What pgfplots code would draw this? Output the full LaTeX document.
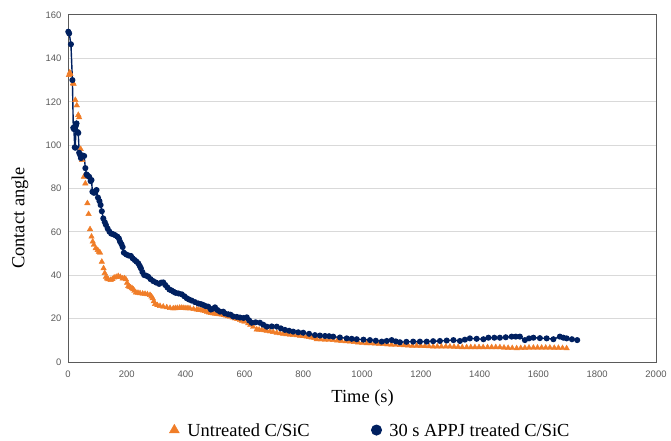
\documentclass[border=0pt]{standalone}
\usepackage{fontspec}
\setmainfont{Liberation Serif}
\newfontfamily\arialf{Liberation Sans}
\usepackage{pgfplots}
\pgfplotsset{compat=1.18}
\definecolor{navy}{RGB}{0,32,96}
\definecolor{orng}{RGB}{240,125,40}
\definecolor{tickgray}{RGB}{89,89,89}
\definecolor{gridgray}{RGB}{217,217,217}
\definecolor{framegray}{RGB}{90,90,90}
\begin{document}
\begin{tikzpicture}
\begin{axis}[
  scale only axis, width=588bp, height=347bp,
  xmin=0, xmax=2000, ymin=0, ymax=160,
  xtick={0,200,...,2000}, ytick={0,20,...,160},
  major tick length=0pt,
  ymajorgrids, grid style={gridgray, line width=1bp},
  axis line style={framegray, line width=1bp},
  tick label style={font=\arialf\fontsize{9.5}{10}\selectfont, text=tickgray},
  /pgf/number format/assume math mode=true,
  /pgf/number format/1000 sep={},
  yticklabel style={xshift=-3bp},
  xticklabel style={yshift=-5bp},
  xlabel={Time (s)}, ylabel={Contact angle},
  label style={font=\fontsize{18.5}{20}\selectfont},
  xlabel style={at={(axis description cs:0.501,-0.1153)}, anchor=base},
  ylabel style={at={(axis description cs:-0.074,0.415)}, anchor=base, rotate=0},
  legend columns=2,
  legend style={at={(axis description cs:0.172,-0.199)}, anchor=west, draw=none, fill=none, inner sep=0pt,
    font=\fontsize{18.5}{20}\selectfont,
    /tikz/every even column/.append style={column sep=60bp},
    /tikz/every odd column/.append style={column sep=6bp}},
  legend cell align=left,
  clip=false,
]
\coordinate (sw) at (rel axis cs:0,0);
\addplot[only marks, mark=triangle*, mark size=3.2bp, color=orng,
  legend image code/.code={\draw[mark size=5.8bp] plot coordinates {(5bp,1bp)};}]
coordinates {
(3,132.3)(6,133.5)(8,132.8)(17,128.5)(19,128.3)(25,120.8)(30,118.3)(35,113.9)(38,112.8)(43,98.2)(48,93.1)(54,85.4)(59,82.3)(66,73.2)(70,68.2)(75,61.2)(80,57.8)(84,55.5)(88,54)(94,52.4)(101,51.6)(105,50.8)(109,50.4)(115,46.2)(121,43.2)(125,41)(129,39.3)(133,38.5)(137,38.1)(145,37.8)(151,38.2)(157,38.9)(164,39.2)(171,39.6)(178,39.2)(186,38.5)(192,38.6)(197,38.1)
(201,36.5)(205,35)(209,34.7)(213,34.4)(218,34.0)(222,33.5)(226,32.8)(231,32)(238,31.9)(245,31.7)(254,31.5)(262,31.4)(270,31.2)(279,30.9)(284,30.2)(288,29.4)(292,28)(296,26.7)
(304,26.2)(313,25.8)(324,25.5)(336,25.2)(347,24.9)(358,24.7)(365,24.8)(372,24.9)(380,25.0)(387,25.0)(394,24.9)(401,24.8)(408,24.8)(415,24.7)(427,24.4)(438,24.2)(445,24.0)(452,23.9)(459,23.7)(466,23.5)(473,23.1)(480,22.8)(487,22.6)(494,22.4)(501,22.2)(508,22.1)(515,22.0)(523,21.9)(530,21.6)(537,21.4)(544,21.1)(551,20.9)(560,20.5)(568,20.1)(576,19.8)(585,19.4)(592,19.0)
(600,18.6)(613,17.8)(620,17.1)(630,16.2)(642,15.0)(650,14.9)(659,14.7)(668,14.6)(676,14.4)(687,14.1)(698,13.8)(710,13.5)(721,13.2)(732,13.0)(743,12.8)(755,12.6)(766,12.4)(778,12.3)(789,12.1)(800,11.9)(812,11.7)(820,11.5)(829,11.3)(838,11.0)
(846,10.5)(860,10.4)(874,10.3)(888,10.2)(902,10.1)(916,9.9)(930,9.7)(945,9.5)(959,9.4)(973,9.2)(987,9.0)(1001,8.8)(1016,8.6)(1030,8.6)(1044,8.5)(1058,8.4)(1072,8.3)(1086,8.1)(1100,8.0)(1114,7.9)(1129,7.8)(1143,7.7)(1157,7.6)(1171,7.5)(1186,7.5)(1200,7.4)(1214,7.3)(1228,7.2)(1242,7.1)(1256,7.1)(1270,7.1)(1285,7.1)(1299,7.1)(1313,7.0)(1327,6.9)(1341,6.8)(1356,6.8)(1370,6.8)(1384,6.8)(1398,6.8)(1412,6.8)(1427,6.8)(1441,6.8)(1455,6.8)(1469,6.8)(1483,6.6)(1497,6.5)(1511,6.4)(1526,6.3)(1540,6.4)(1554,6.5)(1568,6.6)(1583,6.6)(1597,6.6)(1611,6.6)(1625,6.6)(1639,6.6)(1654,6.5)(1668,6.5)(1682,6.4)(1696,6.3)
};
\addlegendentry{Untreated C/SiC}
\addplot[color=navy, line width=1.4bp, mark=*, mark size=2.3bp,
  legend image code/.code={\draw[mark size=4.8bp] plot coordinates {(5bp,1bp)};}]
coordinates {
(1,152.3)(4,151.5)(10,146.5)(15,130)(18,108)(20,107.4)(23,99)(25,98.8)(27,109)(29,110)(33,106)(35,105.6)(38,96.5)(41,95.5)(44,94)(50,95.2)(55,95)(59,89.4)(63,86.5)(67,85.9)(72,85.4)(77,83.4)(80,83.9)(83,78.5)(88,78)(92,78.2)(97,79.3)(102,75.8)(107,74.2)(111,72.4)(115,69.5)(120,66.2)(125,64.5)(129,63.2)(135,61.5)(141,60.1)(147,59.2)(154,58.9)(160,58.5)(168,57.8)(173,57)(177,55.5)(182,54.3)(186,53)
(190,50.4)(198,49.6)(206,49.1)(214,48.9)(220,47.8)(227,47.0)(233,46.3)(239,45.5)(244,44.3)(248,43.2)(253,41.5)(259,40.1)(266,39.8)(273,39.3)(281,38.2)(290,37.3)(300,36.6)(310,36.0)(317,36.6)(324,36.7)(331,35.5)(338,34.4)(345,33.4)(352,33.0)(359,32.4)(366,31.9)(376,31.6)(387,31.2)(396,30.3)(404,29.4)(412,28.8)(421,28.3)(432,27.6)(443,27.0)(452,26.7)(460,26.3)(468,25.8)(477,25.5)(486,24.2)(494,24.6)(500,25.2)(508,24.0)(517,23.2)(528,23.2)(534,22.4)(545,22.0)(553,21.8)(562,21.0)(574,20.8)(585,20.5)(597,20.3)(608,20.6)(616,19.2)(625,18.1)(638,18.3)(653,18.1)(664,17.2)(676,16.3)(693,16.4)(710,16.3)(724,15.5)(738,14.8)(752,14.4)(766,14.0)(783,13.7)(800,13.5)(820,13.0)(840,12.4)(857,12.2)(874,12.0)(888,11.9)(902,11.7)(925,11.3)(948,10.9)(965,10.7)(982,10.5)(1005,10.3)(1027,10.1)(1047,9.8)(1067,9.4)(1084,9.7)(1101,10.1)(1115,9.5)(1129,9.1)(1151,9.3)(1174,9.4)(1197,9.4)(1220,9.4)(1242,9.6)(1265,9.7)(1288,9.9)(1311,10.1)(1333,9.7)(1350,10.3)(1367,10.9)(1390,10.7)(1413,10.5)(1430,11.2)(1450,11.2)(1469,11.2)(1489,11.4)(1509,11.7)(1523,11.7)(1537,11.7)(1554,10.1)(1568,10.9)(1583,11.2)(1605,11.0)(1628,10.9)(1651,10.5)(1673,11.7)(1685,11.2)(1696,10.9)(1714,10.5)(1732,10.1)
};
\addlegendentry{30 s APPJ treated C/SiC}
\end{axis}
\path (sw) ++(-68bp,-78bp) rectangle ++(671bp,440bp);
\end{tikzpicture}
\end{document}
